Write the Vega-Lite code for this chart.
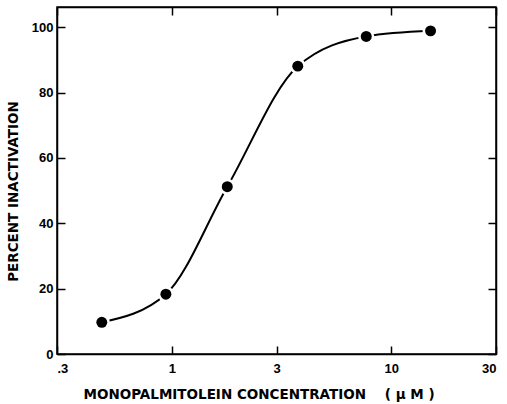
{
  "$schema": "https://vega.github.io/schema/vega-lite/v6.json",
  "autosize": "none",
  "width": 439,
  "height": 347,
  "padding": {"left": 57, "top": 7, "right": 11, "bottom": 50},
  "background": "white",
  "config": {
    "view": {"stroke": "black", "strokeWidth": 1.5},
    "axis": {
      "domainColor": "black", "domainWidth": 1.5,
      "tickColor": "black", "tickWidth": 1.5, "tickSize": -8,
      "labelFont": "Liberation Sans", "labelFontSize": 13, "labelColor": "black", "labelFontWeight": "bold",
      "titleFont": "DejaVu Sans", "titleFontSize": 13.5, "titleColor": "black", "titleFontWeight": "bold",
      "grid": false
    }
  },
  "data": {"values": [
    {"conc": 0.48, "pct": 9.7},
    {"conc": 0.94, "pct": 18.3},
    {"conc": 1.79, "pct": 51.2},
    {"conc": 3.75, "pct": 88.1},
    {"conc": 7.69, "pct": 97.2},
    {"conc": 15.1, "pct": 98.9}
  ]},
  "resolve": {"axis": {"x": "independent", "y": "independent"}},
  "layer": [
    {
      "mark": {"type": "line", "interpolate": "monotone", "color": "black", "strokeWidth": 2},
      "encoding": {
        "x": {"field": "conc", "type": "quantitative",
              "scale": {"type": "log", "domain": [0.3, 30], "nice": false},
              "axis": {"orient": "bottom", "values": [0.3, 1, 3, 10, 30],
                       "labelExpr": "datum.value < 1 ? '.3' : format(datum.value, 'd')",
                       "labelPadding": 16,
                       "title": "MONOPALMITOLEIN CONCENTRATION\u00a0\u00a0\u00a0\u00a0(\u00a0μ\u00a0M\u00a0)",
                       "titleAnchor": "start", "titleAlign": "left", "titleX": 26, "titleY": 33, "titleBaseline": "top"}},
        "y": {"field": "pct", "type": "quantitative",
              "scale": {"domain": [0, 106.2], "nice": false, "zero": true},
              "axis": {"orient": "left", "values": [0, 20, 40, 60, 80, 100],
                       "labelPadding": 12,
                       "title": "PERCENT INACTIVATION",
                       "titleX": -44, "titleY": 184, "titleAngle": -90, "titleAlign": "center", "titleBaseline": "middle"}}
      }
    },
    {
      "mark": {"type": "circle", "color": "white", "opacity": 1, "size": 260},
      "encoding": {
        "x": {"field": "conc", "type": "quantitative",
              "axis": {"orient": "top", "values": [0.3, 1, 3, 10, 30], "labels": false, "title": null}},
        "y": {"field": "pct", "type": "quantitative",
              "axis": {"orient": "right", "values": [0, 20, 40, 60, 80, 100], "labels": false, "title": null}}
      }
    },
    {
      "mark": {"type": "circle", "color": "black", "opacity": 1, "size": 120},
      "encoding": {
        "x": {"field": "conc", "type": "quantitative", "axis": null},
        "y": {"field": "pct", "type": "quantitative", "axis": null}
      }
    }
  ]
}
